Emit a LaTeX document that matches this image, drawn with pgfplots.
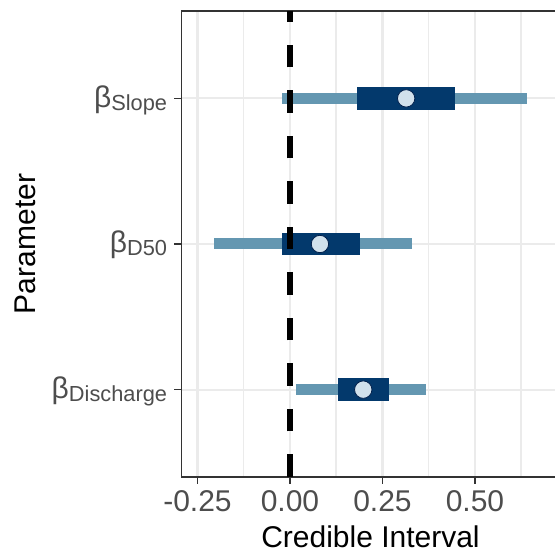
\documentclass[border=0pt]{standalone}
\usepackage{pgfplots}
\pgfplotsset{compat=1.18}
\usepackage{fontspec}
\setmainfont{Liberation Sans}
\definecolor{midc}{HTML}{6497B1}
\definecolor{darkc}{HTML}{03396C}
\definecolor{lightc}{HTML}{D1E1EC}
\definecolor{darkh}{HTML}{011F4B}
\definecolor{gridc}{HTML}{EBEBEB}
\definecolor{g20}{HTML}{333333}
\definecolor{g30}{HTML}{4D4D4D}
\newcommand{\bsub}[1]{β\raisebox{-3pt}{\fontsize{21.8}{22}\selectfont #1}}
\begin{document}
\begin{tikzpicture}
\begin{axis}[
  at={(0,0)}, anchor=south west,
  scale only axis, width=378pt, height=466pt,
  xmin=-0.2932, xmax=0.7284, ymin=0.4, ymax=3.6,
  xtick={-0.25,0,0.25,0.5}, xticklabels={-0.25,0.00,0.25,0.50},
  minor xtick={-0.125,0.125,0.375,0.625},
  ytick={1,2,3}, yticklabels={\bsub{Discharge},\bsub{D50},\bsub{Slope}},
  xtick pos=bottom, ytick pos=left,
  tick align=outside, major tick length=7pt, minor tick length=0pt,
  major tick style={g20, line width=1.6pt},
  grid=both,
  major grid style={gridc, line width=2.2pt},
  minor grid style={gridc, line width=1.5pt},
  axis line style={g20, line width=1.2pt},
  xticklabel style={font=\fontsize{30}{30}\selectfont, text=g30, anchor=north, inner sep=0pt, yshift=-6pt},
  yticklabel style={font=\fontsize{30}{30}\selectfont, text=g30, anchor=base east, inner sep=0pt, xshift=-7.2pt, yshift=-9pt},
  xlabel={Credible Interval}, ylabel={Parameter},
  label style={font=\fontsize{30}{30}\selectfont, text=black},
  xlabel style={at={([yshift=-70.7pt]rel axis cs:0.5,0)}, anchor=base},
  ylabel style={at={([xshift=-145.5pt]rel axis cs:0,0.5)}, anchor=base, rotate=0},
]
\addplot[midc, line width=11pt] coordinates {(-0.021,3) (0.641,3)};
\addplot[midc, line width=11pt] coordinates {(-0.205,2) (0.329,2)};
\addplot[midc, line width=11pt] coordinates {(0.016,1) (0.368,1)};
\addplot[darkc, line width=22.6pt] coordinates {(0.182,3) (0.447,3)};
\addplot[darkc, line width=22.6pt] coordinates {(-0.021,2) (0.190,2)};
\addplot[darkc, line width=22.6pt] coordinates {(0.131,1) (0.268,1)};
\addplot[only marks, mark=*, mark size=8.7pt, mark options={fill=lightc, draw=darkh, line width=0.8pt}] coordinates {(0.314,3) (0.081,2) (0.198,1)};
\addplot[black, line width=5.5pt, dash pattern=on 22.5pt off 23pt] coordinates {(0,0.4) (0,3.6)};
\end{axis}
\pgfresetboundingbox
\useasboundingbox (-181.5pt,-77pt) rectangle (373.5pt,477pt);
\end{tikzpicture}
\end{document}
